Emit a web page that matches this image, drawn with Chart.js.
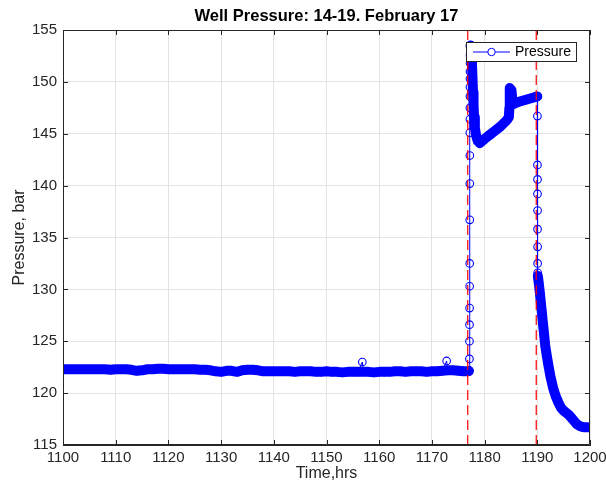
<!DOCTYPE html>
<html><head><meta charset="utf-8">
<script src="https://cdn.jsdelivr.net/npm/chart.js@4"></script>
<style>html,body{margin:0;padding:0;background:#fff;}</style>
</head><body>
<canvas id="c" width="606" height="483"></canvas>
<script>
// ---- data ----
const chartTitle = 'Well Pressure: 14-19. February 17';
const baselineTime = [1100,1101,1102,1103,1104,1105,1106,1107,1108,1109,1110,1111,1112,1113,1114,1115,1116,1117,1118,1119,1120,1121,1122,1123,1124,1125,1126,1127,1128,1129,1130,1131,1132,1133,1134,1135,1136,1137,1138,1139,1140,1141,1142,1143,1144,1145,1146,1147,1148,1149,1150,1151,1152,1153,1154,1155,1156,1157,1158,1159,1160,1161,1162,1163,1164,1165,1166,1167,1168,1169,1170,1171,1172,1173,1174,1175,1176,1177];
const baselinePressure = [122.3,122.3,122.3,122.3,122.3,122.3,122.3,122.3,122.3,122.25,122.3,122.3,122.3,122.25,122.15,122.2,122.3,122.3,122.35,122.35,122.3,122.3,122.3,122.3,122.3,122.3,122.25,122.25,122.2,122.1,122.05,122.15,122.15,122.05,122.2,122.25,122.25,122.2,122.1,122.1,122.1,122.1,122.1,122.1,122.05,122.1,122.1,122.1,122.05,122.05,122.1,122.05,122.05,122.0,122.05,122.05,122.05,122.05,122.05,122.0,122.05,122.05,122.05,122.1,122.1,122.05,122.1,122.1,122.1,122.05,122.1,122.1,122.15,122.2,122.2,122.15,122.1,122.1];
const outlierTime = [1156.8, 1172.8];
const outlierPressure = [123.0, 123.1];
const riseTime = [1177.1,1177.12,1177.13,1177.14,1177.15,1177.16,1177.17,1177.18,1177.19,1177.2,1177.2,1177.21,1177.21,1177.22,1177.22,1177.23,1177.23,1177.24,1177.24,1177.25];
const risePressure = [122.2,123.3,125.0,126.6,128.2,130.3,132.5,136.7,140.2,142.9,145.1,146.4,147.5,148.6,149.5,150.3,151.0,151.8,152.6,153.5];
const peakTime = [1177.35,1177.5,1177.6,1177.7,1177.8,1177.9,1178.0,1178.15,1178.4,1178.7,1179.1];
const peakPressure = [153.5,152.9,151.8,150.4,149.0,147.8,146.6,145.6,144.8,144.3,144.1];
const plateauTime = [1179.1,1180,1181,1182,1183,1184.2,1184.6,1184.7,1184.75,1184.8,1185.1,1185.3,1185.6,1186,1187,1188,1189,1190.0];
const plateauPressure = [144.1,144.5,144.9,145.3,145.7,146.3,146.6,147.5,148.5,149.4,149.2,148.0,147.9,148.0,148.15,148.3,148.45,148.6];
const dropTime = [1190.02,1190.03,1190.04,1190.04,1190.05,1190.05,1190.06,1190.06,1190.07];
const dropPressure = [146.7,142.0,140.6,139.2,137.6,135.8,134.1,132.5,131.6];
const decayTime = [1190.1,1190.3,1190.5,1190.7,1190.9,1191.1,1191.3,1191.5,1191.8,1192.1,1192.5,1193.0,1193.5,1194.0,1194.5,1195.0,1195.5,1196.0,1196.5,1197.0,1197.5,1198.0,1198.5,1199.0,1199.6];
const decayPressure = [131.3,130.5,129.6,128.6,127.6,126.6,125.6,124.6,123.6,122.7,121.6,120.5,119.7,119.1,118.6,118.3,118.1,117.9,117.6,117.3,117.0,116.85,116.75,116.7,116.7];
const eventTimes = [1176.8, 1189.8];
const xTickValues = [1100,1110,1120,1130,1140,1150,1160,1170,1180,1190,1200];
const yTickValues = [115,120,125,130,135,140,145,150,155];

// ---- build datasets ----
const pts = (t, p) => t.map((x, i) => ({x: x, y: p[i]}));
const baseAll = pts(baselineTime, baselinePressure).concat(pts(outlierTime, outlierPressure)).sort((a, b) => a.x - b.x);
const pressurePts = baseAll
  .concat(pts(riseTime, risePressure))
  .concat(pts(peakTime, peakPressure))
  .concat(pts(plateauTime, plateauPressure))
  .concat(pts(dropTime, dropPressure))
  .concat(pts(decayTime, decayPressure));
const densePts = pts(baselineTime, baselinePressure)
  .concat([{x: riseTime[1], y: null}])
  .concat(pts(peakTime, peakPressure))
  .concat(pts(plateauTime, plateauPressure))
  .concat([{x: dropTime[0], y: null}])
  .concat(pts(decayTime, decayPressure));

const FONT = "'Liberation Sans', Arial, Helvetica, sans-serif";
const AX = '#262626';

const boxPlugin = {
  id: 'boxTicks',
  afterDraw(chart) {
    const {ctx, chartArea: a, scales} = chart;
    ctx.save();
    // title centred over the axes
    ctx.fillStyle = '#000';
    ctx.font = 'bold 16.5px ' + FONT;
    ctx.textAlign = 'center'; ctx.textBaseline = 'middle';
    ctx.fillText(chartTitle, (a.left + a.right) / 2, 16);
    // box + inward ticks
    ctx.strokeStyle = AX; ctx.lineWidth = 1;
    ctx.beginPath();
    ctx.rect(Math.round(a.left) + 0.5, Math.round(a.top) + 0.5, Math.round(a.right - a.left) - 1, Math.round(a.bottom - a.top) - 1);
    ctx.stroke();
    ctx.beginPath();
    xTickValues.forEach(v => {
      const x = Math.round(scales.x.getPixelForValue(v)) + 0.5;
      ctx.moveTo(x, a.bottom); ctx.lineTo(x, a.bottom - 5);
      ctx.moveTo(x, a.top); ctx.lineTo(x, a.top + 5);
    });
    yTickValues.forEach(v => {
      const y = Math.round(scales.y.getPixelForValue(v)) + 0.5;
      ctx.moveTo(a.left, y); ctx.lineTo(a.left + 5, y);
      ctx.moveTo(a.right, y); ctx.lineTo(a.right - 5, y);
    });
    ctx.stroke();
    // legend
    const lx = 466.5, ly = 42.5, lw = 110, lh = 19;
    ctx.fillStyle = '#fff';
    ctx.fillRect(lx, ly, lw, lh);
    ctx.strokeStyle = AX;
    ctx.strokeRect(lx, ly, lw, lh);
    const cy = ly + lh / 2;
    ctx.strokeStyle = '#0000ff';
    ctx.beginPath(); ctx.moveTo(473, cy); ctx.lineTo(510, cy); ctx.stroke();
    ctx.beginPath(); ctx.arc(491.5, cy, 3.7, 0, Math.PI * 2); ctx.fillStyle = '#fff'; ctx.fill(); ctx.stroke();
    ctx.fillStyle = '#000';
    ctx.font = '14px ' + FONT;
    ctx.textBaseline = 'middle'; ctx.textAlign = 'left';
    ctx.fillText('Pressure', 515, cy + 0.5);
    ctx.restore();
  }
};

new Chart(document.getElementById('c').getContext('2d'), {
  type: 'line',
  data: {
    datasets: [
      {label: 'e1', data: [{x: eventTimes[0], y: 115}, {x: eventTimes[0], y: 155}], borderColor: '#ff0000', borderWidth: 1.2, borderDash: [10, 5], pointRadius: 0, order: 0},
      {label: 'e2', data: [{x: eventTimes[1], y: 115}, {x: eventTimes[1], y: 155}], borderColor: '#ff0000', borderWidth: 1.2, borderDash: [10, 5], pointRadius: 0, order: 0},
      {label: 'Pressure', data: pressurePts, borderColor: '#0000ff', borderWidth: 1, pointRadius: 3.8, pointBorderWidth: 1.1,
       pointBackgroundColor: 'rgba(0,0,0,0)', pointBorderColor: '#0000ff', tension: 0, order: 1},
      {label: 'dense', data: densePts, borderColor: '#0000ff', borderWidth: 10, pointRadius: 0, borderCapStyle: 'round',
       borderJoinStyle: 'round', spanGaps: false, tension: 0, order: 2}
    ]
  },
  options: {
    responsive: false, animation: false, devicePixelRatio: 1,
    layout: {padding: {left: 0, right: 16, top: 30, bottom: 0}},
    plugins: {
      legend: {display: false}, tooltip: {enabled: false}, title: {display: false}
    },
    scales: {
      x: {type: 'linear', min: 1100, max: 1200,
        afterBuildTicks: s => { s.ticks = xTickValues.map(v => ({value: v})); },
        afterFit: s => { s.height = 38; s.paddingLeft = 0; s.paddingRight = 0; },
        ticks: {font: {family: FONT, size: 15}, color: AX, padding: 4, maxRotation: 0, autoSkip: false,
          callback: v => String(v)},
        grid: {color: '#e3e3e3', drawTicks: false, lineWidth: 1},
        border: {display: true, color: AX, width: 1},
        title: {display: true, text: 'Time,hrs', color: AX, font: {family: FONT, size: 16}, padding: {top: 0, bottom: 0}}
      },
      y: {type: 'linear', min: 115, max: 155,
        afterBuildTicks: s => { s.ticks = yTickValues.map(v => ({value: v})); },
        afterFit: s => { s.width = 63; s.paddingTop = 0; s.paddingBottom = 0; },
        ticks: {font: {family: FONT, size: 15}, color: AX, padding: 6, callback: v => String(v)},
        grid: {color: '#e3e3e3', drawTicks: false, lineWidth: 1},
        border: {display: true, color: AX, width: 1},
        title: {display: true, text: 'Pressure, bar', color: AX, font: {family: FONT, size: 16}, padding: {top: 9.5, bottom: 0}}
      }
    }
  },
  plugins: [boxPlugin]
});
</script>
</body></html>
